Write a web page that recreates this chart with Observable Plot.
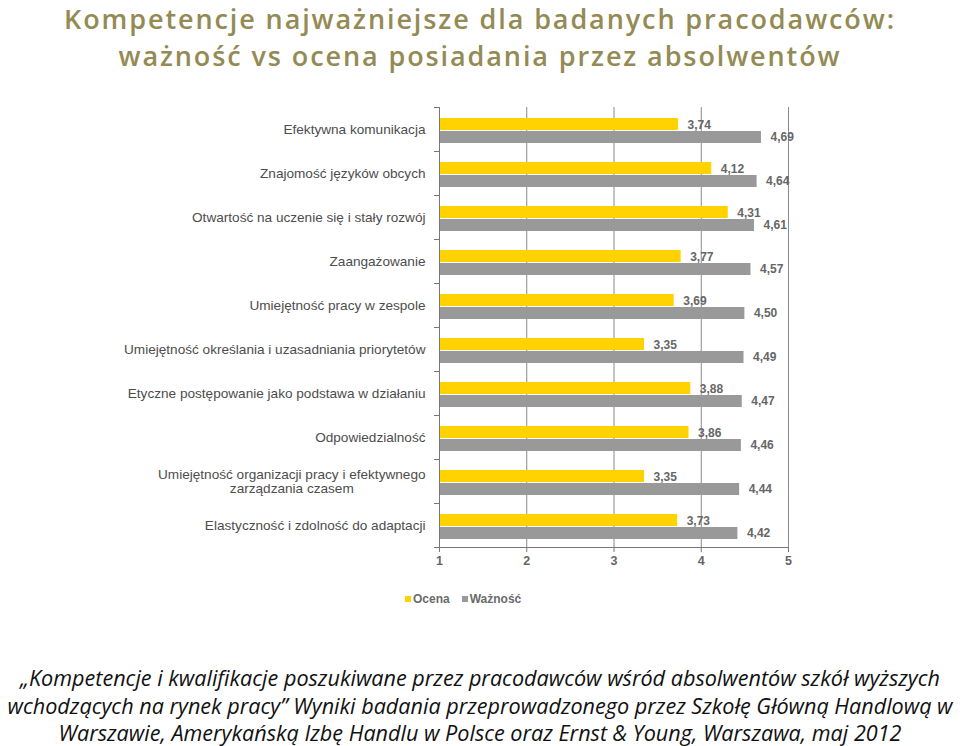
<!DOCTYPE html>
<html>
<head>
<meta charset="utf-8">
<script src="https://cdn.jsdelivr.net/npm/d3@7"></script>
<script src="https://cdn.jsdelivr.net/npm/@observablehq/plot@0.6"></script>
<style>
  html, body { margin: 0; padding: 0; background: #fff; }
  #page { position: relative; width: 960px; height: 746px; overflow: hidden; }
  #title { position: absolute; left: 0; top: 0; width: 960px; height: 80px;
           font-family: "Open Sans", Lato, sans-serif; font-weight: 600; font-size: 27px;
           letter-spacing: 1.9px; color: #948A54; line-height: normal; }
  #title div { position: absolute; left: 0; width: 960px; text-align: center; white-space: nowrap; }
  #chart { position: absolute; left: 0; top: 90px; }
  #legend { position: absolute; left: 405px; top: 592px; font-family: "Liberation Sans", Arial, sans-serif;
            font-size: 12px; font-weight: bold; color: #6b6b6b; display: flex; align-items: center; }
  #legend .item { display: flex; align-items: center; margin-right: 12px; }
  #legend .sw { width: 6px; height: 6px; margin-right: 2px; }
  #caption { position: absolute; left: 0; top: 664px; width: 960px; text-align: center;
             font-family: "Open Sans", Lato, sans-serif; font-style: italic; font-size: 21.6px;
             color: #111; line-height: 27.5px; }
  #caption div { white-space: nowrap; }
</style>
</head>
<body>
<div id="page">
  <div id="title"></div>
  <div id="chart"></div>
  <div id="legend"></div>
  <div id="caption"></div>
</div>
<script>
const titleLines = [
  "Kompetencje najważniejsze dla badanych pracodawców:",
  "ważność vs ocena posiadania przez absolwentów"
];
const categories = [
  "Efektywna komunikacja",
  "Znajomość języków obcych",
  "Otwartość na uczenie się i stały rozwój",
  "Zaangażowanie",
  "Umiejętność pracy w zespole",
  "Umiejętność określania i uzasadniania priorytetów",
  "Etyczne postępowanie jako podstawa w działaniu",
  "Odpowiedzialność",
  "Umiejętność organizacji pracy i efektywnego\nzarządzania czasem",
  "Elastyczność i zdolność do adaptacji"
];
const ocena =   [3.74, 4.12, 4.31, 3.77, 3.69, 3.35, 3.88, 3.86, 3.35, 3.73];
const waznosc = [4.69, 4.64, 4.61, 4.57, 4.50, 4.49, 4.47, 4.46, 4.44, 4.42];
const seriesNames = ["Ocena", "Ważność"];
const seriesColors = ["#FFD200", "#999999"];
const xTicks = [1, 2, 3, 4, 5];
const xDomain = [1, 5];
const captionLines = [
  "„Kompetencje i kwalifikacje poszukiwane przez pracodawców wśród absolwentów szkół wyższych",
  "wchodzących na rynek pracy” Wyniki badania przeprowadzonego przez Szkołę Główną Handlową w",
  "Warszawie, Amerykańską Izbę Handlu w Polsce oraz Ernst & Young, Warszawa, maj 2012"
];

document.getElementById("title").innerHTML = titleLines.map((t, i) =>
  `<div style="top:${i * 37}px">${t}</div>`).join("");
document.getElementById("caption").innerHTML = captionLines.map(t => `<div>${t.replace(/&/g, "&amp;")}</div>`).join("");
document.getElementById("legend").innerHTML = seriesNames.map((s, i) =>
  `<div class="item"><div class="sw" style="background:${seriesColors[i]}"></div>${s}</div>`).join("");

const rowsO = categories.map((c, i) => ({cat: c, v: ocena[i]}));
const rowsW = categories.map((c, i) => ({cat: c, v: waznosc[i]}));
const fmt = v => v.toFixed(2).replace(".", ",");
const x0 = () => xDomain[0];
// centre the second line of a two-line label under its first line
const labelFormat = s => {
  const parts = s.split("\n");
  if (parts.length < 2) return s;
  return parts[0] + "\n" + parts[1] + "\u00A0".repeat(19);
};

const chart = Plot.plot({
  width: 960,
  height: 487,
  marginLeft: 439,
  marginRight: 172,
  marginTop: 17,
  marginBottom: 30,
  style: {fontFamily: "'Liberation Sans', Arial, sans-serif", background: "transparent"},
  x: {domain: xDomain},
  y: {domain: categories, padding: 0},
  marks: [
    Plot.gridX({ticks: xTicks.slice(1), stroke: "#8a8a8a", strokeOpacity: 1, strokeWidth: 1}),
    Plot.barX(rowsO, {y: "cat", x1: x0, x2: "v", fill: seriesColors[0], insetTop: 11, insetBottom: 21}),
    Plot.barX(rowsW, {y: "cat", x1: x0, x2: "v", fill: seriesColors[1], insetTop: 24, insetBottom: 8}),
    Plot.text(rowsO, {y: "cat", x: "v", text: d => fmt(d.v), textAnchor: "start", dx: 9, dy: -4,
      fontSize: 12, fontWeight: "bold", fill: "#666"}),
    Plot.text(rowsW, {y: "cat", x: "v", text: d => fmt(d.v), textAnchor: "start", dx: 9, dy: 8,
      fontSize: 12, fontWeight: "bold", fill: "#666"}),
    Plot.ruleY(categories, {y: d => d, dy: 22, x1: x0, x2: x0, insetLeft: -5, stroke: "#777"}),
    Plot.ruleY(categories.slice(0, 1), {y: d => d, dy: -22, x1: x0, x2: x0, insetLeft: -5, stroke: "#777"}),
    Plot.frame({anchor: "left", stroke: "#777"}),
    Plot.frame({anchor: "bottom", stroke: "#777"}),
    Plot.axisX({ticks: xTicks, tickSize: 5, tickPadding: 4, fontSize: 12.5, fontWeight: "bold",
      fill: "#666", stroke: "#777", label: null, tickFormat: d => String(d)}),
    Plot.axisY({tickSize: 0, tickPadding: 14, fontSize: 13.6, fill: "#4d4d4d", label: null,
      tickFormat: labelFormat})
  ]
});
document.getElementById("chart").appendChild(chart);
</script>
</body>
</html>
